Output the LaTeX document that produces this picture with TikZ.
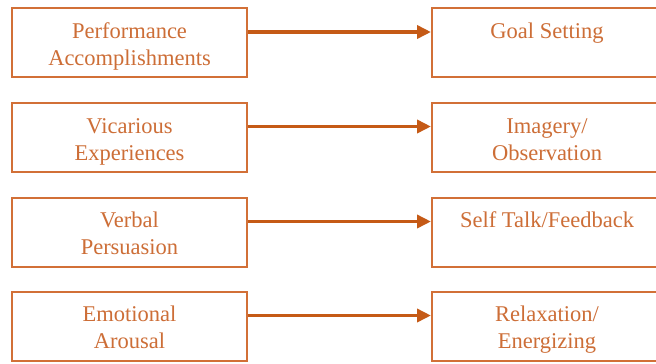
\documentclass[tikz,border=0pt]{standalone}
\usepackage{fontspec}
\setmainfont{Liberation Serif}
\usetikzlibrary{arrows.meta}
\definecolor{rust}{RGB}{210,112,55}
\definecolor{arrowrust}{RGB}{197,90,22}
\definecolor{textrust}{RGB}{205,110,55}
\begin{document}
\begin{tikzpicture}[x=1bp,y=-1bp,
  box/.style={draw=rust, line width=2bp, rectangle, inner sep=0, fill=white},
  lbox/.style={box, minimum width=235bp, minimum height=69bp},
  rbox/.style={box, minimum width=229bp, minimum height=69bp},
  lbl/.style={text=textrust, font=\fontsize{22.5bp}{27bp}\selectfont, align=center, anchor=north, inner sep=0},
  link/.style={draw=arrowrust, line width=3.5bp, -{Triangle[length=14bp,width=13bp]}}]
\useasboundingbox (0,0) rectangle (656,363);
\fill[white] (0,0) rectangle (656,363);
% left boxes
\node[lbox] (L1) at (129.5,42.5) {};
\node[lbox] (L2) at (129.5,137) {};
\node[lbox] (L3) at (129.5,232) {};
\node[lbox] (L4) at (129.5,326) {};
% right boxes
\node[rbox] (R1) at (546.5,42.5) {};
\node[rbox] (R2) at (546.5,137) {};
\node[rbox] (R3) at (546.5,232) {};
\node[rbox] (R4) at (546.5,326) {};
% texts
\node[lbl] (tL1) at (129.5,19.1) {\strut Performance\\\strut Accomplishments};
\node[lbl] (tL2) at (129.5,114.1) {\strut Vicarious\\\strut Experiences};
\node[lbl] (tL3) at (129.5,208.1) {\strut Verbal\\\strut Persuasion};
\node[lbl] (tL4) at (129.5,302.1) {\strut Emotional\\\strut Arousal};
\node[lbl] (tR1) at (547,19.1) {\strut Goal Setting};
\node[lbl] (tR2) at (547,114.1) {\strut Imagery/\\\strut Observation};
\node[lbl] (tR3) at (547,208.1) {\strut Self Talk/Feedback};
\node[lbl] (tR4) at (547,302.1) {\strut Relaxation/\\\strut Energizing};
% arrows
\foreach \i in {1,2,3,4}
  \draw[link] ([yshift=10.5bp]L\i.east) -- ([yshift=10.5bp]R\i.west);
\end{tikzpicture}
\end{document}
